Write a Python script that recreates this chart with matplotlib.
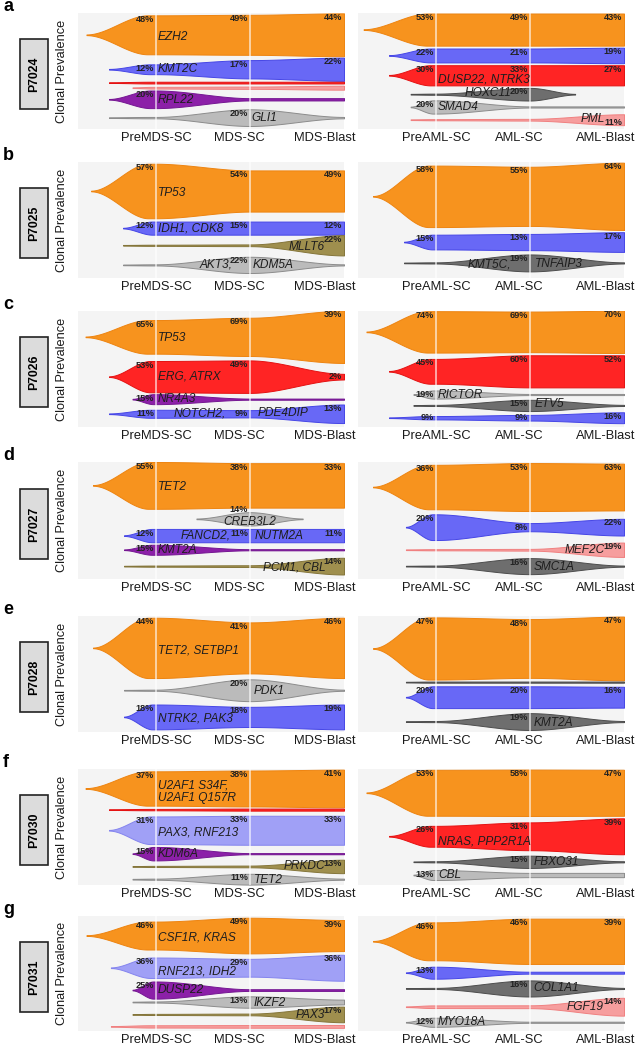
import numpy as np
import matplotlib
matplotlib.use("Agg")
import matplotlib.pyplot as plt
from matplotlib.patches import Rectangle

# ---------------- data ----------------
PATIENTS = ["P7024", "P7025", "P7026", "P7027", "P7028", "P7030", "P7031"]
PANEL_LETTERS = ["a", "b", "c", "d", "e", "f", "g"]
MDS_STAGES = ["PreMDS-SC", "MDS-SC", "MDS-Blast"]
AML_STAGES = ["PreAML-SC", "AML-SC", "AML-Blast"]
Y_LABEL = "Clonal Prevalence"

# P7024
A_MDS_GENES = ["EZH2", "KMT2C", "", "", "RPL22", "GLI1"]
A_MDS_PCT = [(48, 49, 44), (12, 17, 22), (None, None, None), (None, None, None), (20, None, None), (None, 20, None)]
A_MDS_WIDTH = [(33.6, 34.5, 37), (8.5, 15.8, 20), (1.5, 1.5, 1.5), (1.5, 2.0, 3.4), (15.2, 2.0, 2.0), (1.2, 14.4, 1.2)]
A_AML_GENES = ["", "", "DUSP22, NTRK3", "HOXC11", "SMAD4", "PML"]
A_AML_PCT = [(53, 49, 43), (22, 21, 19), (30, 33, 27), (None, 20, None), (20, None, None), (None, None, 11)]
A_AML_WIDTH = [(27.7, 27.7, 27.7), (12, 12, 13.4), (17.4, 17.4, 17.4), (1.0, 10.9, 1.0), (11.4, 1.0, 1.0), (1.0, 1.5, 9.4)]

# P7025
B_MDS_GENES = ["TP53", "IDH1, CDK8", "MLLT6", "AKT3, KDM5A"]
B_MDS_PCT = [(57, 54, 49), (12, 15, 12), (None, None, 22), (None, 22, None)]
B_MDS_WIDTH = [(47, 35.5, 35.5), (11.3, 11.3, 11.3), (1.0, 1.5, 17.5), (1.0, 14, 1.0)]
B_AML_GENES = ["", "", "KMT5C, TNFAIP3"]
B_AML_PCT = [(58, 55, 64), (15, 13, 17), (None, 19, None)]
B_AML_WIDTH = [(53, 51, 58), (12.7, 14, 17), (1.0, 14.6, 1.0)]

# P7026
C_MDS_GENES = ["TP53", "ERG, ATRX", "NR4A3", "NOTCH2, PDE4DIP"]
C_MDS_PCT = [(65, 69, 39), (53, 49, 2), (15, None, None), (11, 9, 13)]
C_MDS_WIDTH = [(29, 33, 45), (27, 28, 4.9), (8.6, 1.0, 1.0), (6.9, 6.3, 16)]
C_AML_GENES = ["", "", "RICTOR", "ETV5", ""]
C_AML_PCT = [(74, 69, 70), (45, 60, 52), (19, None, None), (None, 15, None), (9, 9, 16)]
C_AML_WIDTH = [(35.7, 35, 36.5), (21.4, 27.7, 27.7), (7, 1.0, 1.0), (1.0, 9.7, 1.0), (2.9, 4.9, 9.4)]

# P7027
D_MDS_GENES = ["TET2", "CREB3L2", "FANCD2, NUTM2A", "KMT2A", "PCM1, CBL"]
D_MDS_PCT = [(55, 38, 33), (None, 14, None), (12, 11, 11), (15, None, None), (None, None, 14)]
D_MDS_WIDTH = [(40, 38, 38), (1.0, 11.4, 1.0), (11.4, 11.4, 11.4), (8.6, 1.0, 1.0), (1.0, 1.5, 14.3)]
D_AML_GENES = ["", "", "MEF2C", "SMC1A"]
D_AML_PCT = [(36, 53, 63), (20, 8, 22), (None, None, 19), (None, 16, None)]
D_AML_WIDTH = [(38, 41, 40), (22, 7, 14.3), (1.0, 1.5, 12.3), (1.0, 13.7, 1.0)]

# P7028
E_MDS_GENES = ["TET2, SETBP1", "PDK1", "NTRK2, PAK3"]
E_MDS_PCT = [(44, 41, 46), (None, 20, None), (18, 18, 19)]
E_MDS_WIDTH = [(52, 44, 52), (1.0, 18.8, 1.0), (21.4, 17.4, 21.4)]
E_AML_GENES = ["", "", "", "KMT2A"]
E_AML_PCT = [(47, 48, 47), (None, None, None), (20, 20, 16), (None, 19, None)]
E_AML_WIDTH = [(53.6, 50.7, 55), (1.0, 1.0, 1.0), (18.8, 18.8, 18), (1.0, 14.5, 1.0)]

# P7030
F_MDS_GENES = ["U2AF1 S34F,\nU2AF1 Q157R", "", "PAX3, RNF213", "KDM6A", "PRKDC", "TET2"]
F_MDS_PCT = [(37, 38, 41), (None, None, None), (31, 33, 33), (15, None, None), (None, None, 13), (None, 11, None)]
F_MDS_WIDTH = [(29.6, 31, 32.5), (1.2, 1.8, 1.8), (23.8, 25, 25), (11.6, 1.0, 1.0), (1.0, 1.5, 11.6), (1.0, 9.3, 1.0)]
F_AML_GENES = ["", "NRAS, PPP2R1A", "FBXO31", "CBL"]
F_AML_PCT = [(53, 58, 47), (26, 31, 39), (None, 15, None), (13, None, None)]
F_AML_WIDTH = [(39.6, 40, 39.7), (18, 24, 31), (1.0, 10.6, 1.0), (8.6, 3.7, 3.7)]

# P7031
G_MDS_GENES = ["CSF1R, KRAS", "RNF213, IDH2", "DUSP22", "IKZF2", "PAX3", ""]
G_MDS_PCT = [(46, 49, 39), (36, 29, 36), (25, None, None), (None, 13, None), (None, None, 17), (None, None, None)]
G_MDS_WIDTH = [(24.3, 31, 27), (17.8, 15.5, 22.6), (14.9, 1.5, 1.5), (1.0, 9.9, 4.2), (1.0, 1.5, 13.6), (2.0, 2.3, 2.5)]
G_AML_GENES = ["", "", "COL1A1", "FGF19", "MYO18A"]
G_AML_PCT = [(46, 46, 39), (13, None, None), (None, 16, None), (None, None, 14), (12, None, None)]
G_AML_WIDTH = [(33, 39.4, 39.4), (10.4, 1.7, 1.7), (1.0, 14, 1.0), (2.3, 2.5, 15.5), (7.9, 1.0, 1.0)]

# ---------------- layout / style (positions, colours) ----------------
# (colour, centre y, start x, end x, gene label positions [(x, y, ha)], pct y override)
A_MDS_STYLE = [
    ("orange", 18.8, -0.74, None, [(0.02, 21, "left")], None),
    ("blue", 48.5, -0.50, None, [(0.02, 48.5, "left")], None),
    ("red", 60.0, -0.50, None, [], None),
    ("pink", 64.4, -0.25, None, [], None),
    ("purple", 74.4, -0.50, None, [(0.02, 75, "left")], None),
    ("lightgray", 90.2, -0.50, None, [(1.02, 90.5, "left")], None),
]
A_AML_STYLE = [
    ("orange", 14.3, -0.77, None, [], None),
    ("blue", 36.6, -0.5, None, [], None),
    ("red", 53.7, -0.5, None, [(0.02, 57.5, "left")], None),
    ("darkgray", 70.0, -0.27, 1.48, [(0.80, 68.8, "right")], None),
    ("lightgray", 81.0, -0.27, None, [(0.02, 81.4, "left")], None),
    ("pink", 92.0, -0.27, None, [(1.80, 91.0, "right")], 94.5),
]
B_MDS_STYLE = [
    ("orange", 25.0, -0.69, None, [(0.02, 27, "left")], None),
    ("blue", 57.0, -0.35, None, [(0.02, 57.5, "left")], None),
    ("olive", 71.8, -0.35, None, [(1.80, 73, "right")], None),
    ("lightgray", 88.7, -0.35, None, [(0.81, 88.7, "right"), (1.03, 88.7, "left")], None),
]
B_AML_STYLE = [
    ("orange", 29.6, -0.67, None, [], None),
    ("blue", 69.0, -0.34, None, [], None),
    ("darkgray", 87.0, -0.34, None, [(0.80, 88, "right"), (1.05, 88, "left")], None),
]
C_MDS_STYLE = [
    ("orange", 22.3, -0.75, None, [(0.02, 23, "left")], None),
    ("red", 56.6, -0.5, None, [(0.02, 56.6, "left")], None),
    ("purple", 76.0, -0.25, None, [(0.02, 76, "left")], None),
    ("blue", 88.6, -0.5, None, [(0.74, 88, "right"), (1.08, 88, "left")], None),
]
C_AML_STYLE = [
    ("orange", 18.0, -0.74, None, [], None),
    ("red", 52.0, -0.5, None, [], None),
    ("lightgray", 72.0, -0.24, None, [(0.02, 72, "left")], None),
    ("darkgray", 81.4, -0.24, None, [(1.05, 80.5, "left")], None),
    ("blue", 92.0, -0.5, None, [], None),
]
D_MDS_STYLE = [
    ("orange", 20.0, -0.67, None, [(0.02, 21, "left")], None),
    ("lightgray", 48.6, 0.43, 1.56, [(1.0, 51.0, "center")], 41.0),
    ("blue", 62.9, -0.34, None, [(0.79, 62.9, "right"), (1.05, 62.9, "left")], None),
    ("purple", 75.0, -0.34, None, [(0.02, 75, "left")], None),
    ("olive", 89.0, -0.34, None, [(1.80, 90, "right")], None),
]
D_AML_STYLE = [
    ("orange", 21.4, -0.67, None, [], None),
    ("blue", 55.7, -0.32, None, [], None),
    ("pink", 75.0, -0.32, None, [(1.80, 75, "right")], None),
    ("darkgray", 89.0, -0.32, None, [(1.04, 89.5, "left")], None),
]
E_MDS_STYLE = [
    ("orange", 27.5, -0.67, None, [(0.02, 30, "left")], None),
    ("lightgray", 64.0, -0.34, None, [(1.04, 64.6, "left")], None),
    ("blue", 87.0, -0.34, None, [(0.02, 88.4, "left")], None),
]
E_AML_STYLE = [
    ("orange", 28.0, -0.67, None, [], None),
    ("darkgray", 57.0, -0.32, None, [], None),
    ("blue", 70.0, -0.32, None, [], None),
    ("darkgray", 91.0, -0.32, None, [(1.04, 92, "left")], None),
]
F_MDS_STYLE = [
    ("orange", 16.8, -0.75, None, [(0.02, 19.3, "left")], None),
    ("red", 35.0, -0.5, None, [], None),
    ("lightblue", 52.8, -0.5, None, [(0.02, 55, "left")], None),
    ("purple", 73.0, -0.25, None, [(0.02, 73, "left")], None),
    ("olive", 84.0, -0.25, None, [(1.80, 83.5, "right")], None),
    ("lightgray", 95.0, -0.25, None, [(1.04, 95.5, "left")], None),
]
F_AML_STYLE = [
    ("orange", 20.5, -0.74, None, [], None),
    ("red", 58.0, -0.5, None, [(0.02, 62.5, "left")], None),
    ("darkgray", 80.0, -0.24, None, [(1.04, 80.5, "left")], None),
    ("lightgray", 91.4, -0.24, None, [(0.02, 91.8, "left")], None),
]
G_MDS_STYLE = [
    ("orange", 17.0, -0.74, None, [(0.02, 19, "left")], None),
    ("lightblue", 45.0, -0.48, None, [(0.02, 48.5, "left")], None),
    ("purple", 64.4, -0.25, None, [(0.02, 64.4, "left")], None),
    ("lightgray", 74.8, -0.25, None, [(1.04, 75.5, "left")], None),
    ("olive", 85.6, -0.25, None, [(1.80, 86, "right")], None),
    ("pink", 96.0, -0.48, None, [], None),
]
G_AML_STYLE = [
    ("orange", 22.0, -0.67, None, [], None),
    ("blue", 49.3, -0.32, None, [], None),
    ("darkgray", 63.0, -0.32, None, [(1.04, 63, "left")], None),
    ("pink", 78.9, -0.32, None, [(1.78, 78.9, "right")], None),
    ("lightgray", 92.4, -0.32, None, [(0.02, 92.4, "left")], None),
]

ROWS = [
    ((A_MDS_GENES, A_MDS_PCT, A_MDS_WIDTH, A_MDS_STYLE), (A_AML_GENES, A_AML_PCT, A_AML_WIDTH, A_AML_STYLE)),
    ((B_MDS_GENES, B_MDS_PCT, B_MDS_WIDTH, B_MDS_STYLE), (B_AML_GENES, B_AML_PCT, B_AML_WIDTH, B_AML_STYLE)),
    ((C_MDS_GENES, C_MDS_PCT, C_MDS_WIDTH, C_MDS_STYLE), (C_AML_GENES, C_AML_PCT, C_AML_WIDTH, C_AML_STYLE)),
    ((D_MDS_GENES, D_MDS_PCT, D_MDS_WIDTH, D_MDS_STYLE), (D_AML_GENES, D_AML_PCT, D_AML_WIDTH, D_AML_STYLE)),
    ((E_MDS_GENES, E_MDS_PCT, E_MDS_WIDTH, E_MDS_STYLE), (E_AML_GENES, E_AML_PCT, E_AML_WIDTH, E_AML_STYLE)),
    ((F_MDS_GENES, F_MDS_PCT, F_MDS_WIDTH, F_MDS_STYLE), (F_AML_GENES, F_AML_PCT, F_AML_WIDTH, F_AML_STYLE)),
    ((G_MDS_GENES, G_MDS_PCT, G_MDS_WIDTH, G_MDS_STYLE), (G_AML_GENES, G_AML_PCT, G_AML_WIDTH, G_AML_STYLE)),
]

COLORS = {
    "orange": ("#F7931E", "#EE8410"),
    "blue": ("#6868F6", "#4646E6"),
    "lightblue": ("#A0A0F6", "#8484EE"),
    "red": ("#FF2424", "#E41212"),
    "pink": ("#F69E9E", "#F08080"),
    "purple": ("#8C20A8", "#751792"),
    "lightgray": ("#BBBBBB", "#8C8C8C"),
    "darkgray": ("#6E6E6E", "#4D4D4D"),
    "olive": ("#9F8F4E", "#84753A"),
}

W, H = 635, 1050
ROW_TOPS = [13, 162, 311, 462, 616, 769, 916]
ROW_HS = [116, 116, 116, 117, 116, 116, 115]
LEFT_X, RIGHT_X, AX_W = 78, 358, 266
XLIM = (-0.83, 2.0)
TICK_POS = [0, 0.89, 1.8]
TAIL_FRAC = 0.88  # fraction of the tail over which a clone reaches full width

SANS = ["Liberation Sans", "DejaVu Sans"]
NARROW = ["Liberation Sans Narrow", "Liberation Sans", "DejaVu Sans"]
plt.rcParams["font.family"] = SANS

fig = plt.figure(figsize=(W / 100, H / 100), dpi=100)


def px_axes(x0, top, w, h):
    return fig.add_axes([x0 / W, 1 - (top + h) / H, w / W, h / H])


def smooth(s):
    s = np.clip(s, 0, 1)
    return s * s * (3 - 2 * s)


def profile(x, start, end, w, wmin=0.6):
    knots = [(start, wmin)]
    for t, wt in zip((0, 1, 2), w):
        if start < t and (end is None or t < end):
            knots.append((t, wt))
    if end is not None:
        knots.append((end, wmin))
    y = np.full_like(x, np.nan)
    for k, ((x0, w0), (x1, w1)) in enumerate(zip(knots[:-1], knots[1:])):
        m = (x >= x0) & (x <= x1)
        span = x1 - x0
        if k == 0 and x1 == 0:
            span *= TAIL_FRAC
        y[m] = w0 + (w1 - w0) * smooth((x[m] - x0) / span)
    return y


def draw_panel(ax, genes, pcts, widths, styles, stages):
    ax.set_facecolor("#F4F4F4")
    ax.set_xlim(*XLIM)
    ax.set_ylim(100, 0)
    for sp in ax.spines.values():
        sp.set_visible(False)
    ax.set_yticks([])
    ax.set_xticks(TICK_POS)
    ax.set_xticklabels(stages, fontsize=9.3, color="#1a1a1a")
    ax.tick_params(axis="x", length=0, pad=2.0)
    for gene, pct, w, st in zip(genes, pcts, widths, styles):
        cname, c, start, end, lpos, pct_y = st
        fc, ec = COLORS[cname]
        x = np.linspace(start, end if end is not None else 2.0, 600)
        y = profile(x, start, end, w)
        ax.fill_between(x, c - y / 2, c + y / 2, facecolor=fc, edgecolor=ec,
                        lw=0.7, zorder=2)
        for t, (p, wt) in enumerate(zip(pct, w)):
            if p is None:
                continue
            ty = pct_y if pct_y is not None else c - max(wt / 2 - 3.5, 0)
            ax.text(t - 0.02, ty, f"{p}%", ha="right", va="center",
                    fontsize=6.6, fontweight="bold", color="#222222",
                    family=NARROW, zorder=6)
        if gene and lpos:
            if len(lpos) == 2 and ", " in gene:
                a, b = gene.split(", ", 1)
                parts = [a + ",", b]
            else:
                parts = [gene]
            for txt, (lx, ly, ha) in zip(parts, lpos):
                ax.text(lx, ly, txt, ha=ha, va="center", fontsize=8.6,
                        style="italic", color="#1e1e1e", zorder=6,
                        linespacing=1.05)
    for t in (0, 1):
        ax.axvline(t, color="white", lw=1.4, alpha=0.6, zorder=4)


for i, (row, top, rh) in enumerate(zip(ROWS, ROW_TOPS, ROW_HS)):
    axl = px_axes(LEFT_X, top, AX_W, rh)
    draw_panel(axl, *row[0], MDS_STAGES)
    axr = px_axes(RIGHT_X, top, AX_W, rh)
    draw_panel(axr, *row[1], AML_STAGES)

    # panel letter
    fig.text(3 / W, 1 - (top - 2) / H, PANEL_LETTERS[i], fontsize=13,
             fontweight="bold", va="baseline", ha="left")
    # y-axis label
    fig.text(62 / W, 1 - (top + rh / 2) / H, Y_LABEL, rotation=90,
             ha="center", va="center", fontsize=9.2, color="#1a1a1a")
    # patient box
    bx, bw, bh = 20, 28, 70
    bcy = top + 0.53 * rh
    fig.add_artist(Rectangle((bx / W, 1 - (bcy + bh / 2) / H), bw / W, bh / H,
                             transform=fig.transFigure, facecolor="#DCDCDC",
                             edgecolor="#222222", lw=1.2))
    fig.text((bx + bw / 2) / W, 1 - bcy / H, PATIENTS[i], rotation=90,
             ha="center", va="center", fontsize=8.8, fontweight="bold")

fig.savefig("out.png", dpi=100)
